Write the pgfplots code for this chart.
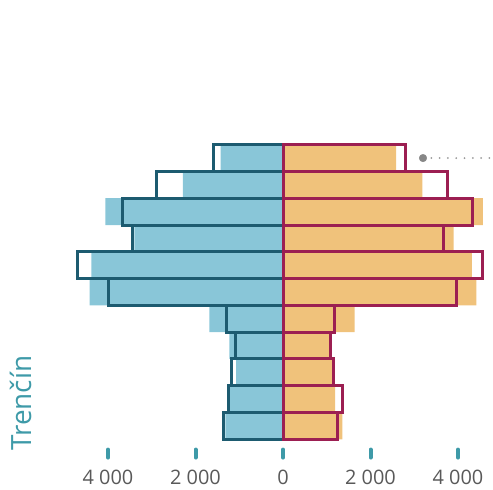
\documentclass[border=0pt]{standalone}
\usepackage{pgfplots}
\pgfplotsset{compat=1.18}
\usepackage{pgfplotstable}
\usepackage{fontspec}
\setmainfont{Open Sans}

\definecolor{menfill}{HTML}{89C6D8}
\definecolor{womenfill}{HTML}{F0C27B}
\definecolor{menline}{HTML}{1D5B70}
\definecolor{womenline}{HTML}{9C1F52}
\definecolor{tickteal}{HTML}{3E9AA8}
\definecolor{labelgray}{HTML}{595959}

% k = age group (0 = youngest, bottom), values in persons
% fm/fw = filled bars, om/ow = outlined bars
\pgfplotstableread{
k   fm     om     fw     ow
0   -1318  -1349  1356   1242
1   -1242  -1257  1189   1349
2   -1074  -1166  1128   1150
3   -1227  -1090  1074   1097
4   -1684  -1303  1638   1173
5   -4419  -3985  4419   3962
6   -4381  -4693  4320   4571
7   -3400  -3429  3900   3672
8   -4061  -3680  4571   4327
9   -2286  -2896  3184   3763
10  -1424  -1593  2583   2811
}\pyramid

\begin{document}
\begin{tikzpicture}
\useasboundingbox (0,0) rectangle (493bp,490bp);
\begin{axis}[
  at={(0,0)}, anchor=south west,
  width=493bp, height=490bp, scale only axis,
  xmin=-6469, xmax=4800, ymin=-2.39, ymax=15.90,
  axis line style={draw=none},
  major tick length=0pt,
  ytick=\empty,
  xtick={-4000,-2000,0,2000,4000},
  xticklabels={4 000,2 000,0,2 000,4 000},
  xticklabel style={font=\fontsize{20}{20}\selectfont, text=labelgray,
    anchor=base, inner sep=0pt, yshift=5.5bp},
  clip=false,
]
  \addplot[xbar, bar width=1, bar shift=0pt, fill=menfill, draw=none] table[x=fm, y=k] {\pyramid};
  \addplot[xbar, bar width=1, bar shift=0pt, fill=womenfill, draw=none] table[x=fw, y=k] {\pyramid};
  \addplot[xbar, bar width=1, bar shift=0pt, fill=none, draw=menline, line width=3bp] table[x=om, y=k] {\pyramid};
  \addplot[xbar, bar width=1, bar shift=0pt, fill=none, draw=womenline, line width=3bp] table[x=ow, y=k] {\pyramid};

  % tick markers
  \addplot[only marks, mark=|, mark size=4bp, color=tickteal,
    mark options={line width=4bp, line cap=round}]
    coordinates {(-4000,-1.03) (-2000,-1.03) (0,-1.03) (2000,-1.03) (4000,-1.03)};

  % leader line
  \addplot[color=black!40, line width=2bp, line cap=round,
    dash pattern=on 0pt off 8.3bp, mark=none]
    coordinates {(3390,10) (4731,10)};
  \addplot[only marks, mark=*, mark size=3.8bp, color=black!47, mark options={draw=none}]
    coordinates {(3200,10)};

  \node[rotate=90, anchor=base west, text=tickteal, inner sep=0pt,
    font=\fontsize{28}{28}\selectfont] at (rel axis cs:0.0649,0.0796) {Trenčín};
\end{axis}
\end{tikzpicture}
\end{document}
